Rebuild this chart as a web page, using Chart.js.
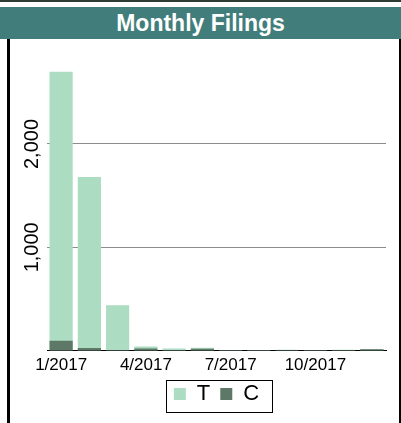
<!DOCTYPE html>
<html>
<head>
<meta charset="utf-8">
<script src="https://cdn.jsdelivr.net/npm/chart.js@4/dist/chart.umd.min.js"></script>
<style>
  body { margin: 0; background: #fff; width: 401px; height: 423px; overflow: hidden; font-family: "Liberation Sans", Arial, sans-serif; }
  #topline { height: 2px; background: #2e3b33; }
  #title { margin-top: 5px; height: 32px; line-height: 32px; background: #417e7b; color: #fff; font-weight: bold; font-size: 23px; text-align: center; }
  #box { position: absolute; left: 7px; top: 39px; width: 389px; height: 384px; border-left: 3px solid #000; border-right: 3px solid #000; }
</style>
</head>
<body>
<div id="topline"></div>
<div id="title">Monthly Filings</div>
<div id="box"><canvas id="chart" width="389" height="384"></canvas></div>
<script>
// monthly data
const months = ['1/2017', '2/2017', '3/2017', '4/2017', '5/2017', '6/2017',
  '7/2017', '8/2017', '9/2017', '10/2017', '11/2017', '12/2017'];
const tValues = [2700, 1680, 440, 40, 20, 28, 6, 6, 8, 7, 9, 16];
const cValues = [95, 25, 3, 20, 5, 18, 5, 5, 3, 3, 5, 12];
const yTicks = [1000, 2000];

// black frame round the legend
const legendFrame = {
  id: 'legendFrame',
  afterDraw(chart) {
    const boxes = chart.legend.legendHitBoxes;
    if (!boxes || !boxes.length) return;
    const first = boxes[0], last = boxes[boxes.length - 1];
    const ctx = chart.ctx;
    ctx.save();
    ctx.strokeStyle = '#000';
    ctx.lineWidth = 1;
    const l = Math.round(first.left - 8) + 0.5;
    const r = Math.round(last.left + last.width + 13) + 0.5;
    const t = Math.round(first.top - 3) + 0.5;
    const b = Math.round(first.top + first.height + 7) + 0.5;
    ctx.strokeRect(l, t, r - l, b - t);
    ctx.restore();
  }
};

new Chart(document.getElementById('chart'), {
  type: 'bar',
  data: {
    labels: months,
    datasets: [{
      label: 'T',
      data: tValues,
      backgroundColor: '#acdcc1',
      grouped: false,
      order: 1
    }, {
      label: 'C',
      data: cValues,
      backgroundColor: '#5e7867',
      grouped: false,
      order: 0
    }]
  },
  options: {
    responsive: false,
    animation: false,
    categoryPercentage: 1,
    barPercentage: 0.82,
    layout: { padding: { top: 12, right: 13, bottom: 8, left: 0 } },
    plugins: {
      legend: {
        position: 'bottom',
        fullSize: false,
        labels: {
          boxWidth: 12,
          boxHeight: 12,
          padding: 10,
          color: '#000',
          sort: (a, b) => a.datasetIndex - b.datasetIndex,
          font: { size: 22, family: '"Liberation Sans", Arial, sans-serif' }
        }
      },
      tooltip: { enabled: false }
    },
    scales: {
      x: {
        offset: true,
        grid: { display: false },
        border: { display: true, color: '#000', width: 1 },
        ticks: {
          autoSkip: false,
          maxRotation: 0,
          padding: -3,
          color: '#000',
          font: { size: 17, family: '"Liberation Sans", Arial, sans-serif' },
          callback: function (v, i) { return i % 3 === 0 ? this.getLabelForValue(v) : ''; }
        }
      },
      y: {
        min: 0,
        max: 2900,
        border: { display: false },
        grid: { drawTicks: false, lineWidth: 1, color: '#8c8c8c' },
        ticks: {
          minRotation: 90,
          maxRotation: 90,
          crossAlign: 'center',
          padding: -11,
          color: '#000',
          font: { size: 20, family: '"Liberation Sans", Arial, sans-serif' },
          callback: v => v.toLocaleString('en-US')
        },
        afterBuildTicks: scale => { scale.ticks = yTicks.map(v => ({ value: v })); },
        afterFit: scale => { scale.width = 37; }
      }
    }
  },
  plugins: [legendFrame]
});
</script>
</body>
</html>
